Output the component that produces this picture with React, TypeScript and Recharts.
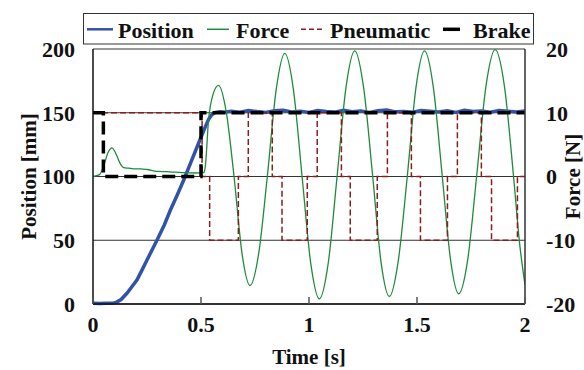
import React from 'react';
import { ComposedChart, Line, XAxis, YAxis, CartesianGrid, Legend } from 'recharts';

const FONT = '"Liberation Serif", "Times New Roman", serif';

// Position [mm] vs time [s]
const posTime = [0, 0.03, 0.06, 0.09, 0.11, 0.13, 0.157, 0.18, 0.204, 0.225, 0.25, 0.296, 0.33, 0.358, 0.39, 0.42, 0.46, 0.498, 0.52, 0.536, 0.55, 0.567, 0.585, 0.61,
  0.64, 0.68, 0.72, 0.76, 0.8, 0.84, 0.88, 0.92, 0.96, 1.0,
  1.04, 1.08, 1.12, 1.16, 1.2, 1.24, 1.28, 1.32, 1.36, 1.4,
  1.44, 1.48, 1.52, 1.56, 1.6, 1.64, 1.68, 1.72, 1.76, 1.8,
  1.84, 1.88, 1.92, 1.96, 2.0];
const posValues = [0.5, 0.3, 0.6, 0.5, 1.5, 3.5, 8.4, 13.5, 19, 26, 34.5, 50, 62, 73.5, 85.5, 97.3, 114, 130, 139, 145, 148.5, 150.3, 150.8, 150.5,
  151.2, 150.4, 151.8, 150.9, 150.2, 151.5, 152.0, 150.6, 151.1, 150.3,
  151.7, 151.0, 150.5, 151.9, 150.8, 151.3, 150.2, 151.6, 152.1, 150.7,
  151.0, 150.4, 151.8, 151.2, 150.6, 151.5, 150.3, 151.9, 150.9, 151.4,
  150.5, 151.7, 151.1, 150.6, 151.3];

// Force [N] vs time [s]
const forceTime = [0, 0.03, 0.049, 0.07, 0.088, 0.1, 0.111, 0.125, 0.142, 0.165, 0.188, 0.22, 0.25, 0.296, 0.343, 0.38, 0.42, 0.47, 0.512, 0.52, 0.535, 0.555,
  0.581, 0.617, 0.653, 0.69, 0.727, 0.767, 0.807, 0.848, 0.888, 0.928, 0.968, 1.008, 1.048, 1.089, 1.13, 1.171, 1.212, 1.253, 1.295,
  1.333, 1.372, 1.413, 1.455, 1.495, 1.535, 1.576, 1.617, 1.655, 1.693, 1.735, 1.776, 1.819, 1.862, 1.905, 1.947, 1.975, 2.0];
const forceValues = [0, 0.3, 1.6, 3.8, 4.5, 4.0, 3.2, 2.1, 1.4, 1.3, 1.2, 1.2, 1.1, 0.8, 0.75, 0.7, 0.6, 0.55, 0.6, 1.6, 8.9, 12.8,
  14.3, 10.1, 0, -12.1, -17.1, -12.1, 0, 13.6, 19.3, 13.6, 0, -13.6, -19.2, -13.6, 0, 13.9, 19.7, 13.9, 0,
  -13.3, -18.8, -13.3, 0, 13.9, 19.7, 13.9, 0, -13, -18.4, -13, 0, 14.1, 19.9, 14.1, 0, -10.5, -17];

// Pneumatic valve command (step, on force axis)
const pneuTime = [0, 0.505, 0.54, 0.673, 0.719, 0.83, 0.875, 0.992, 1.038, 1.15, 1.191, 1.316, 1.363, 1.474, 1.516, 1.641, 1.687, 1.798, 1.845, 1.965, 2.0];
const pneuValues = [10, 0, -10, 0, 10, 0, -10, 0, 10, 0, -10, 0, 10, 0, -10, 0, 10, 0, -10, 0, 0];

// Brake command (step, on force axis)
const brakeTime = [0, 0.048, 0.5, 2.0];
const brakeValues = [10, 0, 10, 10];

const xTicks = [0, 0.5, 1, 1.5, 2];
const posTicks = [0, 50, 100, 150, 200];
const forceTicks = [-20, -10, 0, 10, 20];

const posData = posTime.map((t, i) => ({ t, v: posValues[i] }));
const forceData = forceTime.map((t, i) => ({ t, v: forceValues[i] }));
const pneuData = pneuTime.map((t, i) => ({ t, v: pneuValues[i] }));
const brakeData = brakeTime.map((t, i) => ({ t, v: brakeValues[i] }));

const C_POS = '#3252a8';
const C_FORCE = '#1d8a3c';
const C_PNEU = '#8b1c1c';
const C_BRAKE = '#000000';

const tickStyle = { fill: '#111', fontSize: 22, fontWeight: 'bold', fontFamily: FONT };

const XTick = (props: any) => {
  const { x, y, payload } = props;
  return (
    <g>
      <line x1={x} x2={x} y1={y - 7} y2={y} stroke="#555" strokeWidth={1.5} />
      <text x={x} y={y + 28} textAnchor="middle" style={tickStyle as any}>{payload.value}</text>
    </g>
  );
};

const PosLabel = (props: any) => {
  const vb = props.viewBox || {};
  const cx = vb.x + 29;
  const cy = vb.y + vb.height / 2;
  return (
    <text x={cx} y={cy} transform={`rotate(-90 ${cx} ${cy})`} textAnchor="middle" dominantBaseline="central"
      style={{ fill: '#111', fontSize: 21, fontWeight: 'bold', fontFamily: FONT }}>Position [mm]</text>
  );
};

const ForceLabel = (props: any) => {
  const vb = props.viewBox || {};
  const cx = vb.x + 48;
  const cy = vb.y + vb.height / 2;
  return (
    <text x={cx} y={cy} transform={`rotate(-90 ${cx} ${cy})`} textAnchor="middle" dominantBaseline="central"
      style={{ fill: '#111', fontSize: 21, fontWeight: 'bold', fontFamily: FONT }}>Force [N]</text>
  );
};

const TimeLabel = (props: any) => {
  const vb = props.viewBox || {};
  const cx = vb.x + vb.width / 2;
  const cy = vb.y + 60;
  return (
    <text x={cx} y={cy} textAnchor="middle"
      style={{ fill: '#111', fontSize: 21, fontWeight: 'bold', fontFamily: FONT }}>Time [s]</text>
  );
};

const legendText = { fill: '#111', fontSize: 22, fontWeight: 'bold', fontFamily: FONT } as any;

const LegendBox = () => (
  <svg width={451} height={32} style={{ display: 'block' }}>
    <rect x={0.5} y={0.5} width={450} height={30.5} fill="#fff" stroke="#333" strokeWidth={1} />
    <line x1={4} x2={30} y1={16.3} y2={16.3} stroke={C_POS} strokeWidth={2.5} />
    <text x={35} y={24.5} style={legendText}>Position</text>
    <line x1={124} x2={146} y1={16.3} y2={16.3} stroke={C_FORCE} strokeWidth={1.5} />
    <text x={153} y={24.5} style={legendText}>Force</text>
    <line x1={218} x2={240} y1={16.3} y2={16.3} stroke={C_PNEU} strokeWidth={1.5} strokeDasharray="5 3" />
    <text x={247} y={24.5} style={legendText}>Pneumatic</text>
    <line x1={360} x2={377} y1={16.3} y2={16.3} stroke={C_BRAKE} strokeWidth={3.5} />
    <text x={390} y={24.5} style={legendText}>Brake</text>
  </svg>
);

export default function App() {
  return (
    <div style={{ position: 'absolute', left: 0, top: 0, width: 584, height: 370, background: '#fff' }}>
      <ComposedChart width={584} height={370} margin={{ top: 49, right: 0, bottom: 0, left: 0 }}>
        <CartesianGrid yAxisId="pos" vertical={false} stroke="#333" strokeWidth={1} />
        <XAxis
          dataKey="t"
          type="number"
          domain={[0, 2]}
          ticks={xTicks}
          height={66}
          axisLine={{ stroke: '#111', strokeWidth: 1.5 }}
          tickLine={false}
          tickSize={0}
          tickMargin={0}
          tick={<XTick />}
          label={<TimeLabel />}
          allowDataOverflow
        />
        <YAxis
          yAxisId="pos"
          domain={[0, 200]}
          ticks={posTicks}
          width={93}
          axisLine={{ stroke: '#111', strokeWidth: 1.5 }}
          tickLine={false}
          tickSize={0}
          tickMargin={18}
          tick={tickStyle}
          label={<PosLabel />}
        />
        <YAxis
          yAxisId="f"
          orientation="right"
          domain={[-20, 20]}
          ticks={forceTicks}
          width={59}
          axisLine={{ stroke: '#333', strokeWidth: 1.5 }}
          tickLine={false}
          tickSize={0}
          tickMargin={21}
          tick={tickStyle}
          label={<ForceLabel />}
        />
        <Legend
          layout="horizontal"
          verticalAlign="middle"
          align="center"
          wrapperStyle={{ left: 83, top: 13, width: 451, height: 32 }}
          content={<LegendBox />}
        />
        <Line data={posData} dataKey="v" yAxisId="pos" type="linear" stroke={C_POS} strokeWidth={3.5} dot={false} isAnimationActive={false} />
        <Line data={forceData} dataKey="v" yAxisId="f" type="monotone" stroke={C_FORCE} strokeWidth={1.3} dot={false} isAnimationActive={false} />
        <Line data={pneuData} dataKey="v" yAxisId="f" type="stepAfter" stroke={C_PNEU} strokeWidth={1.5} strokeDasharray="6 3" dot={false} isAnimationActive={false} />
        <Line data={brakeData} dataKey="v" yAxisId="f" type="stepAfter" stroke={C_BRAKE} strokeWidth={3.5} strokeDasharray="13 6" dot={false} isAnimationActive={false} />
      </ComposedChart>
    </div>
  );
}
